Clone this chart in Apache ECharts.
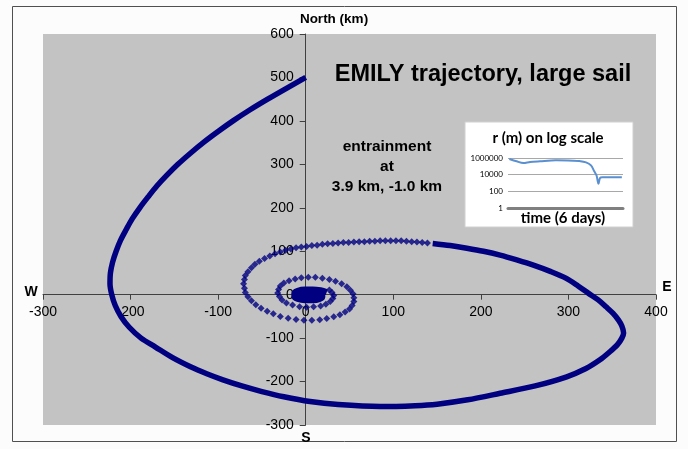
<!DOCTYPE html>
<html><head><meta charset="utf-8">
<script src="https://cdn.jsdelivr.net/npm/echarts@6/dist/echarts.min.js"></script>
<style>html,body{margin:0;padding:0;background:#fff}#c{width:688px;height:449px}</style>
</head><body><div id="c"></div>
<script>
// outer dense trajectory (km), from start at (0,500)
const outerDense = [[0,500],[-22,475],[-43.5,450],[-64,425],[-83,400],[-100.5,375],[-117,350],[-132,325],[-146,300],[-158.5,275],[-170,250],[-180,225],[-189.5,200],[-198,175],[-205,150],[-211.5,125],[-216.5,100],[-220.5,75],[-223,50],[-223.5,25],[-221.5,0],[-217.5,-25],[-211,-50],[-201.5,-75],[-188,-100],[-172,-120],[-152,-145],[-131.5,-166],[-113,-182],[-94.5,-196],[-73,-210],[-50,-223],[-25,-235],[5,-246],[37,-253],[85,-257.5],[125,-255.5],[150,-252],[185,-242],[222,-227],[262,-210],[298,-189],[320,-170],[336,-150],[347,-132],[356,-115],[361,-100],[363,-88],[361,-72],[357,-58],[351,-43],[343,-28],[334,-12],[323,3],[311,20],[297,38],[280,53],[260,68],[241,80],[222,91],[203,100],[184,107],[165,113],[145,118]];
// sparse markers of the inner loops
const sparse = [[139,119],[133,120],[127,121],[121,122],[115,123],[109,124],[103,124],[97,124],[91,124],[85,124],[79,123],[73,123],[67,122],[61,122],[55,121],[49,120],[43,120],[37,119],[31,118],[25,117],[19,116],[13,114],[7,113],[1,111],[-5,110],[-11,108],[-17,105],[-23,102],[-29,98],[-35,94],[-41,89],[-47,83],[-53,77],[-58,70],[-62,62],[-66,53],[-69,44],[-70,35],[-71,25],[-70,15],[-69,5],[-66,-5],[-62,-14],[-57,-23],[-51,-31],[-44,-38],[-37,-44],[-29,-50],[-20,-54],[-11,-57],[-2,-59],[7,-59],[16,-58],[24,-55],[32,-51],[39,-46],[45,-40],[50,-33],[53,-25],[55,-16],[55,-7],[54,2],[51,10],[47,18],[41,25],[34,31],[27,35],[19,38],[11,40],[3,40],[-5,39],[-12,36],[-19,32],[-25,27],[-29,20],[-31,12],[-32,4],[-30,-4],[-27,-12],[-22,-19],[-15,-24],[-7,-28],[1,-29],[9,-28],[17,-26],[23,-22],[28,-16],[31,-9],[32,-2],[30,5],[27,11]];
// dense core near the entrainment point
const coreDense = [[24,6],[17,10],[8,12],[-1,12],[-9,9],[-13,3],[-13,-4],[-9,-10],[-1,-13],[8,-13],[16,-10],[19,-4],[18,2],[12,7],[4,8],[-4,6],[-8,2],[-8,-4],[-3,-8],[5,-9],[12,-6],[13,-1],[9,3],[3,4],[-2,2],[-3,-2],[1,-4],[6,-3],[7,0],[4,-1]];
// inset: r (m) vs time (days)
const insetT = [0.07,0.45,0.8,1.15,1.67,2.5,3.4,3.7,4.07,4.33,4.5,4.62,4.72,4.8,4.93,5.94];
const insetR = [760000,400000,250000,330000,400000,520000,480000,440000,300000,130000,25000,8000,800,4000,4800,4800];
const insetYLabels = ['1','100','10000','1000000'];

const NAVY = '#000080';
const chart = echarts.init(document.getElementById('c'), null, {renderer:'canvas'});
chart.setOption({
  backgroundColor:'#fbfcfb',
  animation:false,
  grid:[
    {left:43, top:34, width:613, height:391, show:true, backgroundColor:'#c2c3c2', borderWidth:0, z:0},
    {left:508, top:158, width:115, height:50, show:false, z:20}
  ],
  xAxis:[
    {gridIndex:0, type:'value', min:-300, max:400, interval:100, position:'bottom', offset:-130.33,
     axisLine:{onZero:false, lineStyle:{color:'#404040', width:1}},
     axisTick:{show:true, length:5, lineStyle:{color:'#404040'}},
     axisLabel:{color:'#000', fontFamily:'Liberation Sans', fontSize:14, margin:10},
     splitLine:{show:false}},
    {gridIndex:1, type:'value', min:0, max:6, z:20,
     axisLine:{show:true, onZero:false, lineStyle:{color:'#808080', width:3}},
     axisTick:{show:false}, axisLabel:{show:false}, splitLine:{show:false}}
  ],
  yAxis:[
    {gridIndex:0, type:'value', min:-300, max:600, interval:100, position:'left', offset:-262.71,
     axisLine:{onZero:false, lineStyle:{color:'#404040', width:1}},
     axisTick:{show:true, length:6, lineStyle:{color:'#404040'}},
     axisLabel:{color:'#000', fontFamily:'Liberation Sans', fontSize:14, margin:12},
     splitLine:{show:false}},
    {gridIndex:1, type:'value', min:0, max:6, interval:2, z:20,
     axisLine:{show:false}, axisTick:{show:false},
     axisLabel:{color:'#000', fontFamily:'Lato', fontSize:8, margin:5,
       formatter:(v)=>insetYLabels[Math.round(v/2)]},
     splitLine:{show:true, lineStyle:{color:'#a8a8a8', width:1}}}
  ],
  graphic:[
    {type:'rect', z:15, shape:{x:465, y:122, width:168, height:105}, style:{fill:'#ffffff', stroke:'#d0d0d0', lineWidth:1}},
    {type:'rect', z:1, silent:true, shape:{x:12.5, y:6.5, width:664, height:435}, style:{fill:'none', stroke:'#505050', lineWidth:1}},
    {type:'text', z:30, style:{x:548, y:138, text:'r (m) on log scale', fill:'#000', font:'bold 15px Lato', align:'center', verticalAlign:'middle'}},
    {type:'text', z:30, style:{x:563, y:218, text:'time (6 days)', fill:'#000', font:'bold 15px Lato', align:'center', verticalAlign:'middle'}},
    {type:'text', z:30, style:{x:334, y:19, text:'North (km)', fill:'#000', font:'bold 13.5px Liberation Sans', align:'center', verticalAlign:'middle'}},
    {type:'text', z:30, style:{x:31, y:292, text:'W', fill:'#000', font:'bold 14px Liberation Sans', align:'center', verticalAlign:'middle'}},
    {type:'text', z:30, style:{x:667, y:287, text:'E', fill:'#000', font:'bold 14px Liberation Sans', align:'center', verticalAlign:'middle'}},
    {type:'text', z:30, style:{x:306, y:438, text:'S', fill:'#000', font:'bold 14px Liberation Sans', align:'center', verticalAlign:'middle'}},
    {type:'text', z:30, style:{x:483, y:75, text:'EMILY trajectory, large sail', fill:'#000', font:'bold 23.5px Liberation Sans', align:'center', verticalAlign:'middle'}},
    {type:'text', z:30, style:{x:387, y:166.5, text:'entrainment\nat\n3.9 km, -1.0 km', fill:'#000', font:'bold 15.5px Liberation Sans', lineHeight:20, align:'center', verticalAlign:'middle'}}
  ],
  series:[
    {type:'line', xAxisIndex:0, yAxisIndex:0, data:outerDense, smooth:0.3, showSymbol:false, lineStyle:{color:NAVY, width:5.5}, z:3},
    {type:'line', xAxisIndex:0, yAxisIndex:0, data:coreDense, smooth:0.4, showSymbol:false, lineStyle:{color:NAVY, width:6}, z:3},
    {type:'scatter', xAxisIndex:0, yAxisIndex:0, data:sparse, symbol:'diamond', symbolSize:7, itemStyle:{color:NAVY}, z:4},
    {type:'line', xAxisIndex:1, yAxisIndex:1, data:insetT.map((t,i)=>[t, Math.log10(insetR[i])]), smooth:0.3, showSymbol:false, lineStyle:{color:'#5a8fd0', width:2}, z:25}
  ]
});
</script></body></html>
